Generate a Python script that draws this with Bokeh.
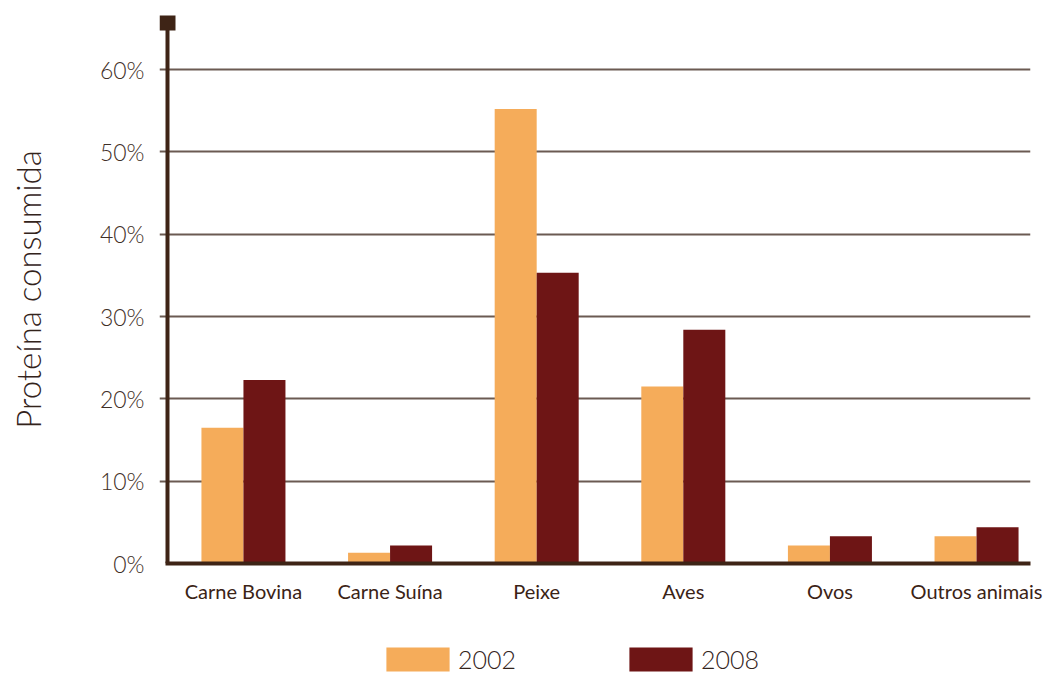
from bokeh.plotting import figure
from bokeh.layouts import column
from bokeh.models import (Range1d, FixedTicker, PrintfTickFormatter, Legend, LegendItem,
                          ColumnDataSource)
from bokeh.transform import dodge
from bokeh.embed import file_html
from bokeh.resources import INLINE

categories = ["Carne Bovina", "Carne Suína", "Peixe", "Aves", "Ovos", "Outros animais"]
years = ["2002", "2008"]
values_2002 = [16.5, 1.3, 55.2, 21.5, 2.2, 3.3]
values_2008 = [22.3, 2.2, 35.3, 28.4, 3.3, 4.4]
y_ticks = [0, 10, 20, 30, 40, 50, 60]
y_title = "Proteína consumida"

positions = list(range(len(categories)))
source = ColumnDataSource(dict(x=positions, v2002=values_2002, v2008=values_2008))

AXIS = "#3e2416"
C2002 = "#F5AC5A"
C2008 = "#6E1515"
FONT = "Lato"
FONT_LIGHT = "Lato Light, Lato"

PX_X = 146.6   # pixels per category
x_axis = -0.518                 # where the vertical axis line sits
x_start = x_axis - 8 / PX_X
x_end = 5.368
y_start, y_end = 0, 66.56
y_cap = 65.7                    # top of the vertical axis line (square cap)

p = figure(width=1045, height=620, x_range=Range1d(x_start, x_end), y_range=Range1d(y_start, y_end),
           output_backend="svg", toolbar_location=None,
           min_border_left=159, min_border_right=15, min_border_top=15, min_border_bottom=57)
p.outline_line_color = None
p.background_fill_color = "white"
p.border_fill_color = "white"

bw = 0.2865
r1 = p.vbar(x=dodge("x", -bw / 2, range=p.x_range), top="v2002", width=bw, source=source,
            fill_color=C2002, line_color=None)
r2 = p.vbar(x=dodge("x", bw / 2, range=p.x_range), top="v2008", width=bw, source=source,
            fill_color=C2008, line_color=None)

# vertical axis line with square cap
p.segment(x0=[x_axis], y0=[y_start], x1=[x_axis], y1=[y_cap], line_color=AXIS, line_width=4)
p.scatter(x=[x_axis], y=[y_cap], marker="square", size=16, fill_color=AXIS, line_color=None)

# axes
p.xaxis.ticker = FixedTicker(ticks=positions)
p.xaxis.major_label_overrides = {i: c for i, c in enumerate(categories)}
p.xaxis.bounds = (x_axis - 2 / PX_X, x_end)
p.xaxis.axis_line_color = AXIS
p.xaxis.axis_line_width = 4
p.xaxis.major_tick_line_color = None
p.xaxis.minor_tick_line_color = None
p.xaxis.major_label_standoff = 9
p.xaxis.major_label_text_font = FONT
p.xaxis.major_label_text_font_size = "20px"
p.xaxis.major_label_text_color = "#3b2316"

p.yaxis.ticker = FixedTicker(ticks=y_ticks)
p.yaxis.formatter = PrintfTickFormatter(format="%d%%")
p.yaxis.axis_line_color = None
p.yaxis.major_tick_line_color = None
p.yaxis.minor_tick_line_color = None
p.yaxis.major_label_standoff = 9
p.yaxis.major_label_text_font = FONT_LIGHT
p.yaxis.major_label_text_font_size = "23px"
p.yaxis.major_label_text_color = "#3f2f27"
p.yaxis.axis_label = y_title
p.yaxis.axis_label_text_font = FONT_LIGHT
p.yaxis.axis_label_text_font_style = "normal"
p.yaxis.axis_label_text_font_size = "33px"
p.yaxis.axis_label_text_color = "#33231b"
p.yaxis.axis_label_standoff = 49

p.xgrid.visible = False
p.ygrid.ticker = FixedTicker(ticks=y_ticks[1:])
p.ygrid.bounds = (x_axis, x_end)
p.ygrid.grid_line_color = "#6b5a52"
p.ygrid.grid_line_width = 2

# legend strip below the chart (its frame is aligned with the chart's frame)
leg = figure(width=1045, height=53, x_range=Range1d(0, 1), y_range=Range1d(0, 1),
             output_backend="svg", toolbar_location=None, x_axis_type=None, y_axis_type=None,
             min_border_left=159, min_border_right=15, min_border_top=0, min_border_bottom=0)
leg.outline_line_color = None
leg.xgrid.visible = False
leg.ygrid.visible = False
k1 = leg.vbar(x=[-100], top=[0], width=0.1, fill_color=C2002, line_color=None)
k2 = leg.vbar(x=[-100], top=[0], width=0.1, fill_color=C2008, line_color=None)
legend = Legend(items=[LegendItem(label=years[0], renderers=[k1]),
                       LegendItem(label=years[1], renderers=[k2])],
                orientation="horizontal", location=(219, -1),
                glyph_width=79, glyph_height=30, label_height=24, label_standoff=1,
                spacing=105, padding=0, margin=0,
                border_line_color=None, background_fill_alpha=0,
                label_text_font=FONT_LIGHT, label_text_font_size="25px", label_text_color="#33231b")
leg.add_layout(legend, "center")

layout = column(p, leg, spacing=0)
open("out.html", "w").write(file_html(layout, INLINE))
